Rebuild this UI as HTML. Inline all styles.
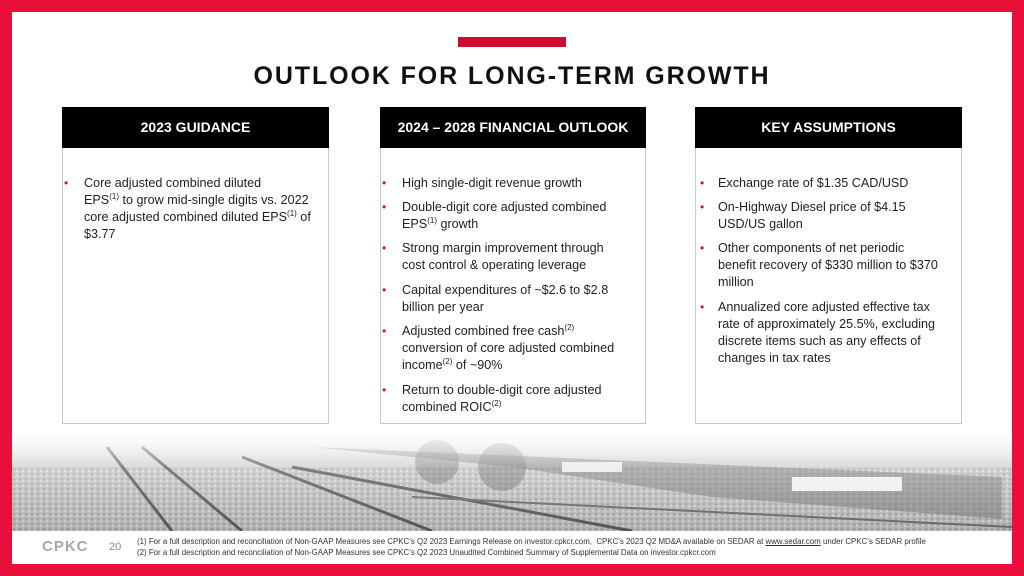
<!DOCTYPE html>
<html><head><meta charset="utf-8"><style>
*{margin:0;padding:0;box-sizing:border-box}
body{width:1024px;height:576px;background:#e8103a;position:relative;overflow:hidden;font-family:"Liberation Sans",sans-serif;color:#222}
#w{position:absolute;left:12px;top:12px;width:1000px;height:552px;background:#fff;overflow:hidden}
.abs{position:absolute}
.bar{left:446px;top:25px;width:108px;height:10px;background:#c8102e}
.title{left:0;width:1000px;top:50px;text-align:center;font-weight:bold;font-size:25px;letter-spacing:1.9px;color:#111}
.box{border:1px solid #c8c8c8;background:#fff}
.hd{background:#000;color:#fff;font-weight:bold;font-size:14px;text-align:center;line-height:41px;height:41px;position:absolute;left:-1px;right:-1px;top:-1px}
.ln{position:absolute;font-size:12.6px;line-height:17px;white-space:nowrap;color:#222}
.b{position:absolute;color:#d0103a;font-size:12px;line-height:17px}
sup{font-size:8px;vertical-align:5px;line-height:0}
.foot{font-size:7.9px;color:#333;line-height:10.5px;white-space:nowrap}
</style></head><body><div id="w">
<div class="abs bar"></div>
<div class="abs title">OUTLOOK FOR LONG-TERM GROWTH</div>

<div class="abs box" style="left:50px;top:95px;width:267px;height:317px"><div class="hd">2023 GUIDANCE</div></div>
<div class="abs box" style="left:368px;top:95px;width:266px;height:317px"><div class="hd">2024 – 2028 FINANCIAL OUTLOOK</div></div>
<div class="abs box" style="left:683px;top:95px;width:267px;height:317px"><div class="hd">KEY ASSUMPTIONS</div></div>

<!-- photo -->
<svg class="abs" style="left:0;top:415px" width="1000" height="104">
<defs><linearGradient id="g" x1="0" y1="0" x2="0" y2="1"><stop offset="0" stop-color="#fff"/><stop offset="0.3" stop-color="#d4d4d4"/><stop offset="1" stop-color="#a4a4a4"/></linearGradient>
<linearGradient id="f" x1="0" y1="0" x2="0" y2="1"><stop offset="0" stop-color="#fff" stop-opacity="1"/><stop offset="0.4" stop-color="#fff" stop-opacity="0.25"/><stop offset="1" stop-color="#fff" stop-opacity="0"/></linearGradient>
<pattern id="p" width="6" height="5" patternUnits="userSpaceOnUse"><rect width="6" height="5" fill="#bdbdbd"/><circle cx="2" cy="2" r="1.3" fill="#8a8a8a"/><circle cx="5" cy="4" r="1" fill="#eee"/></pattern></defs>
<rect width="1000" height="104" fill="url(#g)"/>
<rect y="40" width="1000" height="64" fill="url(#p)" opacity="0.55"/>
<path d="M300 20 L990 50 L990 92 L700 70 L500 40Z" fill="#707070" opacity="0.55"/>
<rect x="780" y="50" width="110" height="14" fill="#eee"/>
<rect x="550" y="35" width="60" height="10" fill="#e8e8e8"/>
<circle cx="490" cy="40" r="24" fill="#666" opacity="0.5"/>
<circle cx="425" cy="35" r="22" fill="#666" opacity="0.5"/>
<path d="M95 20 L160 104 M130 20 L230 104 M230 30 L420 104 M280 40 L620 104" stroke="#555" stroke-width="3" fill="none"/>
<path d="M400 70 L1000 100" stroke="#666" stroke-width="2"/>
<rect width="1000" height="104" fill="url(#f)"/>
</svg>

<!-- left -->
<div class="b" style="left:52px;top:163px">•</div>
<div class="ln" style="left:72px;top:163px">Core adjusted combined diluted</div>
<div class="ln" style="left:72px;top:180px">EPS<sup>(1)</sup> to grow mid-single digits vs. 2022</div>
<div class="ln" style="left:72px;top:197px">core adjusted combined diluted EPS<sup>(1)</sup> of</div>
<div class="ln" style="left:72px;top:214px">$3.77</div>

<!-- middle -->
<div class="b" style="left:370px;top:163px">•</div><div class="ln" style="left:390px;top:163px">High single-digit revenue growth</div>
<div class="b" style="left:370px;top:187px">•</div><div class="ln" style="left:390px;top:187px">Double-digit core adjusted combined</div>
<div class="ln" style="left:390px;top:204px">EPS<sup>(1)</sup> growth</div>
<div class="b" style="left:370px;top:228px">•</div><div class="ln" style="left:390px;top:228px">Strong margin improvement through</div>
<div class="ln" style="left:390px;top:245px">cost control &amp; operating leverage</div>
<div class="b" style="left:370px;top:270px">•</div><div class="ln" style="left:390px;top:270px">Capital expenditures of ~$2.6 to $2.8</div>
<div class="ln" style="left:390px;top:287px">billion per year</div>
<div class="b" style="left:370px;top:311px">•</div><div class="ln" style="left:390px;top:311px">Adjusted combined free cash<sup>(2)</sup></div>
<div class="ln" style="left:390px;top:328px">conversion of core adjusted combined</div>
<div class="ln" style="left:390px;top:345px">income<sup>(2)</sup> of ~90%</div>
<div class="b" style="left:370px;top:370px">•</div><div class="ln" style="left:390px;top:370px">Return to double-digit core adjusted</div>
<div class="ln" style="left:390px;top:387px">combined ROIC<sup>(2)</sup></div>

<!-- right -->
<div class="b" style="left:688px;top:163px">•</div><div class="ln" style="left:706px;top:163px">Exchange rate of $1.35 CAD/USD</div>
<div class="b" style="left:688px;top:187px">•</div><div class="ln" style="left:706px;top:187px">On-Highway Diesel price of $4.15</div>
<div class="ln" style="left:706px;top:204px">USD/US gallon</div>
<div class="b" style="left:688px;top:228px">•</div><div class="ln" style="left:706px;top:228px">Other components of net periodic</div>
<div class="ln" style="left:706px;top:245px">benefit recovery of $330 million to $370</div>
<div class="ln" style="left:706px;top:262px">million</div>
<div class="b" style="left:688px;top:287px">•</div><div class="ln" style="left:706px;top:287px">Annualized core adjusted effective tax</div>
<div class="ln" style="left:706px;top:304px">rate of approximately 25.5%, excluding</div>
<div class="ln" style="left:706px;top:321px">discrete items such as any effects of</div>
<div class="ln" style="left:706px;top:338px">changes in tax rates</div>

<!-- footer -->
<div class="abs" style="left:30px;top:526px;font-size:15px;font-weight:bold;color:#a8a8a8;letter-spacing:1px">CPKC</div>
<div class="abs" style="left:97px;top:529px;font-size:11px;color:#888">20</div>
<div class="abs foot" style="left:125px;top:525px">(1) For a full description and reconciliation of Non-GAAP Measures see CPKC’s Q2 2023 Earnings Release on investor.cpkcr.com,&nbsp; CPKC’s 2023 Q2 MD&amp;A available on SEDAR at <u>www.sedar.com</u> under CPKC’s SEDAR profile<br>(2) For a full description and reconciliation of Non-GAAP Measures see CPKC’s Q2 2023 Unaudited Combined Summary of Supplemental Data on investor.cpkcr.com</div>
</div></body></html>
